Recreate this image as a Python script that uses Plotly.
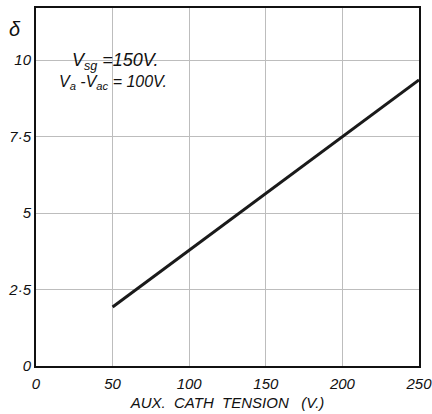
import plotly.graph_objects as go

# data
x_vals = [50, 250]
y_vals = [1.93, 9.35]
x_ticks = [0, 50, 100, 150, 200, 250]
x_tick_text = ["0", "50", "100", "150", "200", "250"]
y_ticks = [0, 2.5, 5, 7.5, 10]
y_tick_text = ["0", "2·5", "5", "7·5", "10"]

FONT = "Liberation Sans"

fig = go.Figure()
fig.add_trace(go.Scatter(x=x_vals, y=y_vals, mode="lines",
                         line=dict(color="#1a1a1a", width=3), showlegend=False,
                         hoverinfo="skip"))

fig.update_layout(
    width=432, height=414,
    margin=dict(l=36, r=13, t=8, b=48, autoexpand=False),
    paper_bgcolor="white", plot_bgcolor="white",
    font=dict(family=FONT, size=14, color="#111"),
    xaxis=dict(range=[0, 250], tickvals=x_ticks, ticktext=x_tick_text,
               automargin=False, ticklabeloverflow="allow",
               showgrid=True, gridcolor="#bdbdbd", gridwidth=1,
               showline=True, linecolor="#111", linewidth=2, mirror=True,
               zeroline=False, ticks="", ticklabelstandoff=3,
               tickfont=dict(family=FONT, size=15, style="italic"),
               title=dict(text="AUX.  CATH  TENSION   (V.)", standoff=6,
                          font=dict(family=FONT, size=15, style="italic"))),
    yaxis=dict(range=[0, 11.7], tickvals=y_ticks, ticktext=y_tick_text,
               automargin=False, ticklabeloverflow="allow",
               showgrid=True, gridcolor="#bdbdbd", gridwidth=1,
               showline=True, linecolor="#111", linewidth=2, mirror=True,
               zeroline=False, ticks="", ticklabelstandoff=0,
               tickfont=dict(family=FONT, size=15, style="italic")),
)

fig.add_annotation(text="δ", xref="paper", yref="paper", x=-0.055, y=0.94,
                   showarrow=False, font=dict(family=FONT, size=20, style="italic"),
                   xanchor="center", yanchor="middle")
fig.add_annotation(text="V<sub>sg</sub> =150V.", x=52, y=9.95, showarrow=False,
                   font=dict(family=FONT, size=18, style="italic"),
                   xanchor="center", yanchor="middle")
fig.add_annotation(text="V<sub>a</sub> -V<sub>ac</sub> = 100V.", x=50, y=9.25, showarrow=False,
                   font=dict(family=FONT, size=16, style="italic"),
                   xanchor="center", yanchor="middle")

fig.write_html("out.html", config={"displayModeBar": False},
               post_script="document.body.style.margin='0';document.body.style.overflow='hidden';")
